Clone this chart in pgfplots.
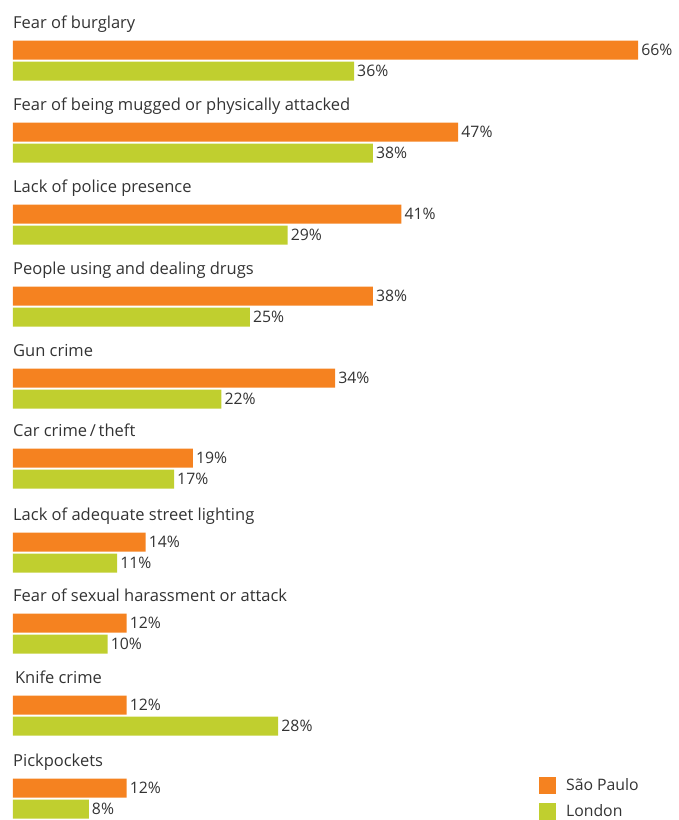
\documentclass[border=0pt]{standalone}
\usepackage{pgfplots}
\pgfplotsset{compat=1.18}
\usepackage{pgfplotstable}
\usepackage{fontspec}
\setmainfont{Open Sans}
\definecolor{sporange}{HTML}{F58220}
\definecolor{ldgreen}{HTML}{C0CF2F}
\definecolor{txt}{HTML}{333333}
\pgfplotstableread{
y v
50 66
132 47
214 41
296 38
378 34
458 19
542 14
623 12
705 12
788 12
}\saopaulo
\pgfplotstableread{
y v
71 36
153 38
235 29
317 25
399 22
479 17
563 11
644 10
726 28
809 8
}\london
\newcommand{\catfont}{\fontsize{16.5}{18}\selectfont}
\newcommand{\valfont}{\fontsize{15.8}{18}\selectfont}
\begin{document}
\begin{tikzpicture}
\begin{axis}[
  scale only axis, width=678pt, height=820pt,
  xmin=-1.37, xmax=70.2, ymin=0, ymax=820, y dir=reverse,
  hide axis, clip=false,
  xbar, bar width=19pt, bar shift=0pt,
  nodes near coords={\pgfmathprintnumber[assume math mode=true]{\pgfplotspointmeta}\%},
  nodes near coords style={font=\valfont, text=txt, anchor=west, inner sep=0pt, xshift=3pt},
  legend style={at={(axis cs:55.2,775)}, anchor=north west, draw=none, fill=none,
    font=\valfont, text=txt, row sep=9pt, nodes={inner sep=0pt, anchor=west},
    /tikz/every odd column/.style={column sep=10pt}},
  legend cell align=left,
  legend image code/.code={\fill[#1, draw=none] (0pt,-8.5pt) rectangle (17pt,8.5pt);},
]
\addplot[fill=sporange, draw=none] table[x=v, y=y] {\saopaulo};
\addlegendentry{São Paulo}
\addplot[fill=ldgreen, draw=none] table[x=v, y=y] {\london};
\addlegendentry{London}
\begin{scope}[every node/.style={anchor=base west, font=\catfont, text=txt, inner sep=0pt}]
\node at (axis cs:0,28.5) {Fear of burglary};
\node at (axis cs:0,110.5) {Fear of being mugged or physically attacked};
\node at (axis cs:0,192.5) {Lack of police presence};
\node at (axis cs:0,274.5) {People using and dealing drugs};
\node at (axis cs:0,356.5) {Gun crime};
\node at (axis cs:0,436.5) {Car crime\,/\,theft};
\node at (axis cs:0,520.5) {Lack of adequate street lighting};
\node at (axis cs:0,601.5) {Fear of sexual harassment or attack};
\node at (axis cs:0.2,683.5) {Knife crime};
\node at (axis cs:0,766.5) {Pickpockets};
\end{scope}
\end{axis}
\pgfresetboundingbox
\path[use as bounding box] (0,0) rectangle (678pt,820pt);
\end{tikzpicture}
\end{document}
